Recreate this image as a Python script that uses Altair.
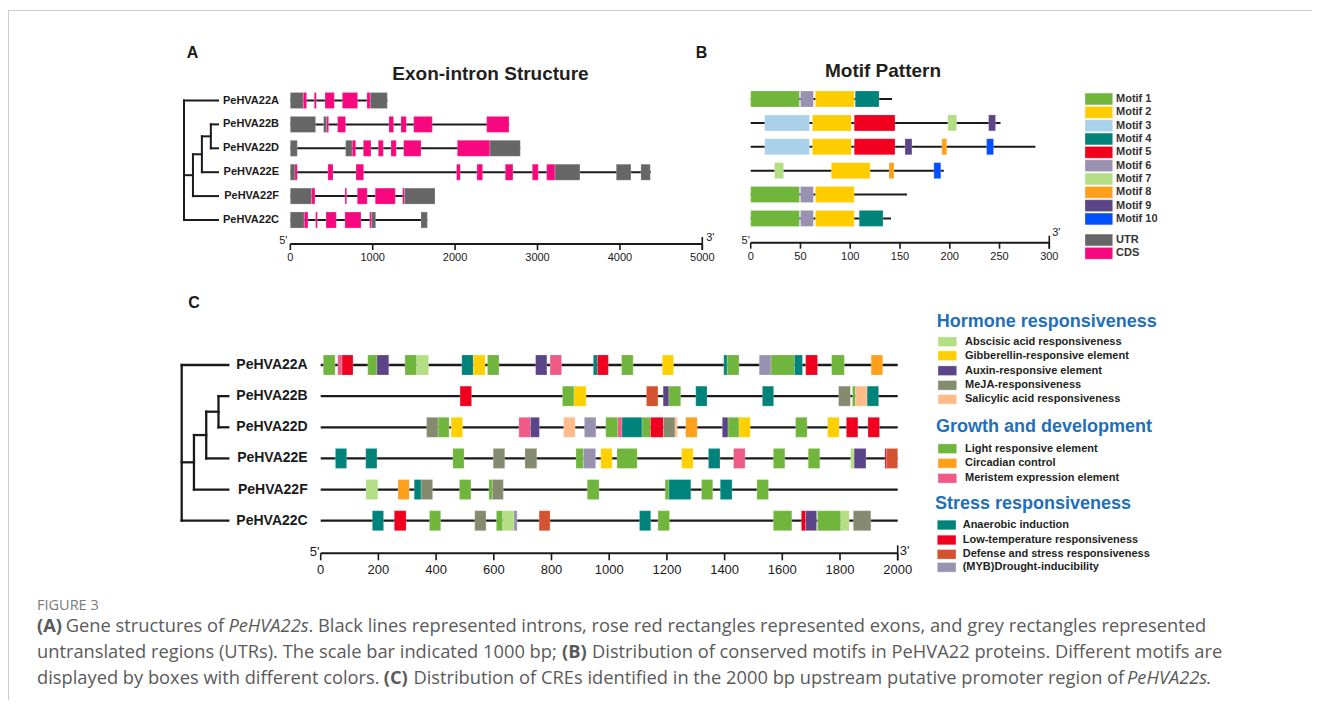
import altair as alt
import pandas as pd

W, H = 1304, 692

GENES = ["PeHVA22A", "PeHVA22B", "PeHVA22D", "PeHVA22E", "PeHVA22F", "PeHVA22C"]

# ---------- Panel A: gene structures (bp) ----------
GENE_LEN = [1180, 2658, 2791, 4377, 1756, 1663]
EX_A = [("UTR", 0, 158), ("CDS", 158, 198), ("CDS", 291, 316), ("CDS", 421, 534), ("CDS", 631, 817), ("CDS", 930, 971), ("UTR", 971, 1177)]
EX_B = [("UTR", 0, 307), ("UTR", 404, 441), ("CDS", 441, 465), ("CDS", 574, 671), ("CDS", 1197, 1254), ("CDS", 1343, 1408), ("CDS", 1497, 1723), ("CDS", 2383, 2654)]
EX_D = [("UTR", 0, 85), ("UTR", 671, 752), ("CDS", 752, 793), ("CDS", 886, 979), ("CDS", 1068, 1129), ("CDS", 1222, 1286), ("CDS", 1375, 1586), ("CDS", 2027, 2423), ("UTR", 2423, 2791)]
EX_E = [("UTR", 0, 57), ("CDS", 57, 85), ("CDS", 457, 518), ("CDS", 797, 890), ("CDS", 2018, 2063), ("CDS", 2265, 2334), ("CDS", 2609, 2702), ("CDS", 2937, 3009), ("CDS", 3111, 3212), ("UTR", 3212, 3515), ("UTR", 3956, 4134), ("UTR", 4255, 4369)]
EX_F = [("UTR", 0, 259), ("CDS", 259, 299), ("CDS", 663, 684), ("CDS", 813, 934), ("CDS", 1031, 1274), ("CDS", 1363, 1387), ("UTR", 1387, 1756)]
EX_C = [("UTR", 0, 170), ("CDS", 170, 214), ("CDS", 307, 328), ("CDS", 433, 558), ("CDS", 663, 858), ("CDS", 963, 987), ("UTR", 987, 1036), ("UTR", 1586, 1663)]
EXONS = [EX_A, EX_B, EX_D, EX_E, EX_F, EX_C]
A_TICKS = [0, 1000, 2000, 3000, 4000, 5000]

# ---------- Panel B: motifs (aa) ----------
PROT_LEN = [142, 251, 286, 194, 157, 141]
MO_A = [(1, 0, 49), (6, 50, 63), (2, 65, 104), (4, 105, 129)]
MO_B = [(3, 14, 59), (2, 62, 101), (5, 104, 145), (7, 198, 207), (9, 239, 246)]
MO_D = [(3, 14, 59), (2, 62, 101), (5, 104, 145), (9, 155, 162), (8, 192, 197), (10, 237, 244)]
MO_E = [(7, 24, 33), (2, 81, 120), (8, 139, 144), (10, 184, 191)]
MO_F = [(1, 0, 49), (6, 50, 63), (2, 65, 104)]
MO_C = [(1, 0, 49), (6, 50, 63), (2, 65, 104), (4, 109, 133)]
MOTIFS = [MO_A, MO_B, MO_D, MO_E, MO_F, MO_C]
B_TICKS = [0, 50, 100, 150, 200, 250, 300]
MOTIF_COLORS = ["#70B63C", "#FFCC00", "#A9D1EA", "#00837A", "#F0001E",
                "#9892B0", "#B3DE84", "#FFA01A", "#5C4488", "#0050FF"]
UTR_COLOR, CDS_COLOR = "#666666", "#F7087F"

# ---------- Panel C: cis-regulatory elements (bp upstream) ----------
CRE_A = [("LIGHT", 9, 50), ("MER", 59, 74), ("LTR", 74, 112), ("LIGHT", 163, 195), ("AUX", 195, 236), ("LIGHT", 292, 333), ("ABA", 333, 374), ("ANA", 489, 529), ("GA", 529, 570), ("LIGHT", 578, 618), ("AUX", 745, 784), ("MER", 795, 835), ("ANA", 945, 959), ("LTR", 959, 997), ("LIGHT", 1043, 1083), ("GA", 1184, 1223), ("ANA", 1397, 1409), ("LIGHT", 1409, 1450), ("MYB", 1520, 1561), ("LIGHT", 1561, 1642), ("ANA", 1642, 1670), ("LTR", 1681, 1722), ("LIGHT", 1771, 1815), ("CIRC", 1908, 1948)]
CRE_B = [("LTR", 483, 523), ("LIGHT", 838, 878), ("GA", 878, 920), ("DEF", 1129, 1169), ("AUX", 1187, 1207), ("LIGHT", 1207, 1248), ("ANA", 1300, 1339), ("ANA", 1531, 1570), ("MEJA", 1795, 1836), ("LIGHT", 1843, 1854), ("SA", 1854, 1894), ("ANA", 1894, 1934)]
CRE_D = [("MEJA", 367, 407), ("LIGHT", 407, 445), ("GA", 452, 492), ("MER", 687, 727), ("AUX", 727, 758), ("SA", 842, 882), ("MYB", 914, 954), ("LIGHT", 988, 1030), ("MER", 1030, 1044), ("ANA", 1044, 1114), ("LIGHT", 1114, 1143), ("LTR", 1143, 1188), ("MEJA", 1188, 1228), ("SA", 1228, 1236), ("CIRC", 1265, 1305), ("AUX", 1392, 1412), ("LIGHT", 1412, 1450), ("GA", 1450, 1489), ("LIGHT", 1646, 1686), ("GA", 1757, 1797), ("LTR", 1822, 1862), ("LTR", 1897, 1937)]
CRE_E = [("ANA", 51, 90), ("ANA", 156, 195), ("LIGHT", 458, 497), ("MEJA", 598, 638), ("MEJA", 708, 749), ("LIGHT", 885, 911), ("MYB", 911, 953), ("GA", 971, 1010), ("LIGHT", 1027, 1097), ("GA", 1251, 1291), ("ANA", 1344, 1384), ("MER", 1431, 1471), ("LIGHT", 1569, 1609), ("LIGHT", 1690, 1730), ("ABA", 1837, 1849), ("AUX", 1849, 1890), ("LTR", 1956, 1962), ("DEF", 1962, 2000)]
CRE_F = [("ABA", 157, 198), ("CIRC", 268, 307), ("ANA", 324, 348), ("MEJA", 348, 388), ("LIGHT", 481, 521), ("LIGHT", 583, 595), ("MEJA", 595, 633), ("LIGHT", 924, 965), ("LIGHT", 1194, 1207), ("ANA", 1207, 1283), ("LIGHT", 1320, 1359), ("ANA", 1385, 1426), ("LIGHT", 1512, 1552)]
CRE_C = [("ANA", 179, 218), ("LTR", 255, 296), ("LIGHT", 377, 416), ("MEJA", 534, 573), ("LIGHT", 609, 631), ("ABA", 631, 670), ("MYB", 670, 681), ("DEF", 757, 795), ("ANA", 1105, 1144), ("LIGHT", 1169, 1209), ("LIGHT", 1569, 1633), ("LTR", 1666, 1681), ("AUX", 1681, 1719), ("LIGHT", 1722, 1803), ("ABA", 1803, 1832), ("MEJA", 1846, 1907)]
CRES = [CRE_A, CRE_B, CRE_D, CRE_E, CRE_F, CRE_C]
C_TICKS = [0, 200, 400, 600, 800, 1000, 1200, 1400, 1600, 1800, 2000]
PROMOTER_LEN = 2000

CRE_KEYS = ["ABA", "GA", "AUX", "MEJA", "SA", "LIGHT", "CIRC", "MER", "ANA", "LTR", "DEF", "MYB"]
CRE_LABELS = ["Abscisic acid responsiveness", "Gibberellin-responsive element", "Auxin-responsive element",
              "MeJA-responsiveness", "Salicylic acid responsiveness", "Light responsive element",
              "Circadian control", "Meristem expression element", "Anaerobic induction",
              "Low-temperature responsiveness", "Defense and stress responsiveness", "(MYB)Drought-inducibility"]
CRE_COLORS = ["#B3DE84", "#FFD000", "#5C4488", "#848B6F", "#FFBC8A", "#70B63C",
              "#FFA01A", "#F05A87", "#00837A", "#F0001E", "#D35230", "#9892B0"]
CRE_GROUPS = ["Hormone responsiveness", "Growth and development", "Stress responsiveness"]

# tree topology: (node, depth, children); leaves are genes by letter
LEAF_ROW = {"A": 0, "B": 1, "D": 2, "E": 3, "F": 4, "C": 5}
TREE = [("BD", 3, ["B", "D"]), ("BDE", 2, ["BD", "E"]), ("CL", 1, ["BDE", "F"]), ("ROOT", 0, ["A", "CL", "C"])]
LEAF_DEPTH = 3.8

CAPTION_HEAD = "FIGURE 3"

FONT = "Liberation Sans"
INK = "#1a1a1a"


def S(dom, rng):
    return alt.Scale(domain=list(dom), range=list(rng), nice=False, zero=False)


XA, YA = S([0, 5000], [282.3, 694.3]), S([0, 5], [92.5, 212])
XB, YB = S([0, 300], [742.7, 1041.3]), S([0, 5], [91, 210.4])
XC, YC = S([0, 2000], [312.7, 889.7]), S([0, 5], [357, 512.7])
TXA, TXC = S([0, LEAF_DEPTH], [176, 210]), S([0, LEAF_DEPTH], [173.7, 220.3])
IX, IY = S([0, W], [0, W]), S([0, H], [0, H])

layers = []


def X(f, sc):
    return alt.X(f, scale=sc, axis=None)


def Y(f, sc):
    return alt.Y(f, scale=sc, axis=None)


# frame
layers.append(alt.Chart(pd.DataFrame({"a": [0]})).mark_rect(filled=False, stroke="#cccccc", strokeWidth=1).encode(
    x=alt.value(0.5), y=alt.value(2.5), x2=alt.value(W + 20), y2=alt.value(H + 20)))


def tree_layers(tx, ys, sw):
    pos = {k: (LEAF_DEPTH, float(v)) for k, v in LEAF_ROW.items()}
    segs = []
    for node, d, kids in TREE:
        cy = [pos[k][1] for k in kids]
        segs.append((d, d, min(cy), max(cy)))
        for k in kids:
            segs.append((d, pos[k][0], pos[k][1], pos[k][1]))
        pos[node] = (d, (min(cy) + max(cy)) / 2)
    df = pd.DataFrame(segs, columns=["x0", "x1", "y0", "y1"])
    return alt.Chart(df).mark_rule(color=INK, strokeWidth=sw, strokeCap="square").encode(
        x=X("x0:Q", tx), x2="x1:Q", y=Y("y0:Q", ys), y2="y1:Q")


def track_layers(lengths, feats, colorf, xs, ys, half, lw):
    ldf = pd.DataFrame({"row": range(6), "s": 0, "e": lengths})
    rows = []
    for r, fl in enumerate(feats):
        for k, s, e in fl:
            rows.append({"row": r, "s": s, "e": e, "y0": r - half, "y1": r + half, "fill": colorf(k)})
    bdf = pd.DataFrame(rows)
    line = alt.Chart(ldf).mark_rule(color=INK, strokeWidth=lw).encode(x=X("s:Q", xs), x2="e:Q", y=Y("row:Q", ys))
    box = alt.Chart(bdf).mark_rect(stroke="white", strokeOpacity=0.35, strokeWidth=0.6).encode(
        x=X("s:Q", xs), x2="e:Q", y=Y("y0:Q", ys), y2="y1:Q", color=alt.Color("fill:N", scale=None))
    return [line, box]


def label_layer(xpx, ys, size):
    df = pd.DataFrame({"row": range(6), "g": GENES})
    return alt.Chart(df).mark_text(align="right", baseline="middle", font=FONT, fontWeight="bold",
                                   fontSize=size, color=INK).encode(
        x=alt.value(xpx), y=Y("row:Q", ys), text="g:N")


def axis_layers(xs, ticks, yl, tlen, ly, fs, up, p5, p3):
    ld = pd.DataFrame({"a": [ticks[0]], "b": [ticks[-1]]})
    td = pd.DataFrame({"t": ticks, "lab": [str(t) for t in ticks]})
    out = [
        alt.Chart(ld).mark_rule(color=INK, strokeWidth=2).encode(x=X("a:Q", xs), x2="b:Q", y=alt.value(yl)),
        alt.Chart(td).mark_rule(color=INK, strokeWidth=1.6).encode(x=X("t:Q", xs), y=alt.value(yl), y2=alt.value(yl + tlen)),
        alt.Chart(ld).mark_rule(color=INK, strokeWidth=1.6).encode(x=X("b:Q", xs), y=alt.value(yl - up), y2=alt.value(yl + tlen)),
        alt.Chart(td).mark_text(font=FONT, fontSize=fs, baseline="middle", color=INK).encode(
            x=X("t:Q", xs), y=alt.value(ly), text="lab:N"),
        alt.Chart(ld).mark_text(font=FONT, fontSize=fs, baseline="middle", align="center", color=INK, dx=p5[0]).encode(
            x=X("a:Q", xs), y=alt.value(p5[1]), text=alt.value("5'")),
        alt.Chart(ld).mark_text(font=FONT, fontSize=fs, baseline="middle", align="center", color=INK, dx=p3[0]).encode(
            x=X("b:Q", xs), y=alt.value(p3[1]), text=alt.value("3'")),
    ]
    return out


def gene_color(k):
    return UTR_COLOR if k == "UTR" else CDS_COLOR


# ----- Panel A -----
layers.append(tree_layers(TXA, YA, 2))
layers += track_layers(GENE_LEN, EXONS, gene_color, XA, YA, 0.335, 2)
layers.append(label_layer(271, YA, 11))
layers += axis_layers(XA, A_TICKS, 236, 6, 250, 11, 7, (-7, 233), (8, 230))

# ----- Panel B -----
layers += track_layers(PROT_LEN, MOTIFS, lambda k: MOTIF_COLORS[k - 1], XB, YB, 0.335, 2)
layers += axis_layers(XB, B_TICKS, 234.7, 6, 248.7, 11, 7, (-5, 233), (7, 224.5))

# ----- Panel C -----
layers.append(tree_layers(TXC, YC, 2.3))
layers += track_layers([PROMOTER_LEN] * 6, CRES, lambda k: CRE_COLORS[CRE_KEYS.index(k)], XC, YC, 0.321, 2.3)
layers.append(label_layer(299.7, YC, 14))
layers += axis_layers(XC, C_TICKS, 545.3, 7, 562, 13, 8, (-6, 543.7), (7, 542.5))

# ----- Titles & panel letters -----
tdf = pd.DataFrame({"x": [184.5, 693.5, 186], "y": [44.5, 44.5, 294.5], "t": ["A", "B", "C"]})
layers.append(alt.Chart(tdf).mark_text(font=FONT, fontSize=16, fontWeight="bold", color=INK, baseline="middle").encode(
    x=X("x:Q", IX), y=Y("y:Q", IY), text="t:N"))
ttl = pd.DataFrame({"x": [482.5, 875], "y": [65.5, 62.5], "t": ["Exon-intron Structure", "Motif Pattern"]})
layers.append(alt.Chart(ttl).mark_text(font=FONT, fontSize=19, fontWeight="bold", color="#231F20", baseline="middle").encode(
    x=X("x:Q", IX), y=Y("y:Q", IY), text="t:N"))

# ----- Legend B -----
lb_lab = ["Motif %d" % (i + 1) for i in range(10)] + ["UTR", "CDS"]
lb_col = MOTIF_COLORS + [UTR_COLOR, CDS_COLOR]
lb_y = [91 + 13.33 * i for i in range(10)] + [232, 245.3]
lbd = pd.DataFrame({"lab": lb_lab, "fill": lb_col, "y": lb_y})
lbd["y0"], lbd["y1"] = lbd["y"] - 5.9, lbd["y"] + 5.9
layers.append(alt.Chart(lbd).mark_rect(stroke="white", strokeOpacity=0.5, strokeWidth=0.6).encode(
    x=alt.value(1077), x2=alt.value(1104.7), y=Y("y0:Q", IY), y2="y1:Q", color=alt.Color("fill:N", scale=None)))
layers.append(alt.Chart(lbd).mark_text(font=FONT, fontSize=11, fontWeight="bold", color="#333333", align="left", baseline="middle").encode(
    x=alt.value(1108), y=Y("y:Q", IY), text="lab:N"))

# ----- Legend C -----
item_y = [333.7, 347.7, 362.7, 377.3, 391.3, 440.7, 455.3, 470.3, 517, 532, 546.3, 559.3]
head_y = [314, 418.7, 496]
head_x = [928.7, 928, 927]
lcd = pd.DataFrame({"lab": CRE_LABELS, "fill": CRE_COLORS, "y": item_y,
                    "sx": [930] * 8 + [929.3] * 4, "tx": [957] * 8 + [954.7] * 4})
lcd["y0"], lcd["y1"] = lcd["y"] - 4.8, lcd["y"] + 4.8
lcd["sx2"] = lcd["sx"] + 18.7
layers.append(alt.Chart(lcd).mark_rect(stroke="white", strokeOpacity=0.5, strokeWidth=0.6).encode(
    x=X("sx:Q", IX), x2="sx2:Q", y=Y("y0:Q", IY), y2="y1:Q", color=alt.Color("fill:N", scale=None)))
layers.append(alt.Chart(lcd).mark_text(font=FONT, fontSize=11, fontWeight="bold", color="#231F20", align="left", baseline="middle").encode(
    x=X("tx:Q", IX), y=Y("y:Q", IY), text="lab:N"))
hd = pd.DataFrame({"t": CRE_GROUPS, "x": head_x, "y": head_y})
layers.append(alt.Chart(hd).mark_text(font=FONT, fontSize=18, fontWeight="bold", color="#1F6FBA", align="left", baseline="middle").encode(
    x=X("x:Q", IX), y=Y("y:Q", IY), text="t:N"))

# ----- Caption -----
CAP_FONT = "Open Sans"
cap = [
    ("b", 29, 619, "(A)"), ("n", 57.7, 619, "Gene structures of"), ("i", 220.4, 619, "PeHVA22s"),
    ("n", 300.4, 619, ". Black lines represented introns, rose red rectangles represented exons, and grey rectangles represented"),
    ("n", 29, 645, "untranslated regions (UTRs). The scale bar indicated 1000 bp;"), ("b", 554, 645, "(B)"),
    ("n", 584, 645, "Distribution of conserved motifs in PeHVA22 proteins. Different motifs are"),
    ("n", 29, 671, "displayed by boxes with different colors."), ("b", 375.7, 671, "(C)"),
    ("n", 405.4, 671, "Distribution of CREs identified in the 2000 bp upstream putative promoter region of"),
    ("i", 1119, 671, "PeHVA22s"), ("n", 1198, 671, "."),
]
capdf = pd.DataFrame(cap, columns=["st", "x", "y", "t"])
for st, kw in [("n", {}), ("b", {"fontWeight": "bold"}), ("i", {"fontStyle": "italic"})]:
    layers.append(alt.Chart(capdf[capdf.st == st]).mark_text(font=CAP_FONT, fontSize=18.3, color="#5a5a5a", align="left",
                                                               baseline="middle", **kw).encode(
        x=X("x:Q", IX), y=Y("y:Q", IY), text="t:N"))
layers.append(alt.Chart(pd.DataFrame({"x": [29], "y": [598], "t": [CAPTION_HEAD]})).mark_text(
    font=CAP_FONT, fontSize=14.5, color="#7a7a7a", align="left", baseline="middle").encode(
    x=X("x:Q", IX), y=Y("y:Q", IY), text="t:N"))

chart = alt.layer(*layers).resolve_scale(x="independent", y="independent").properties(
    width=W, height=H, padding=0, autosize=alt.AutoSizeParams(type="none")
).configure_view(stroke=None)

chart.save("out.html", embed_options={"renderer": "svg", "actions": False})
